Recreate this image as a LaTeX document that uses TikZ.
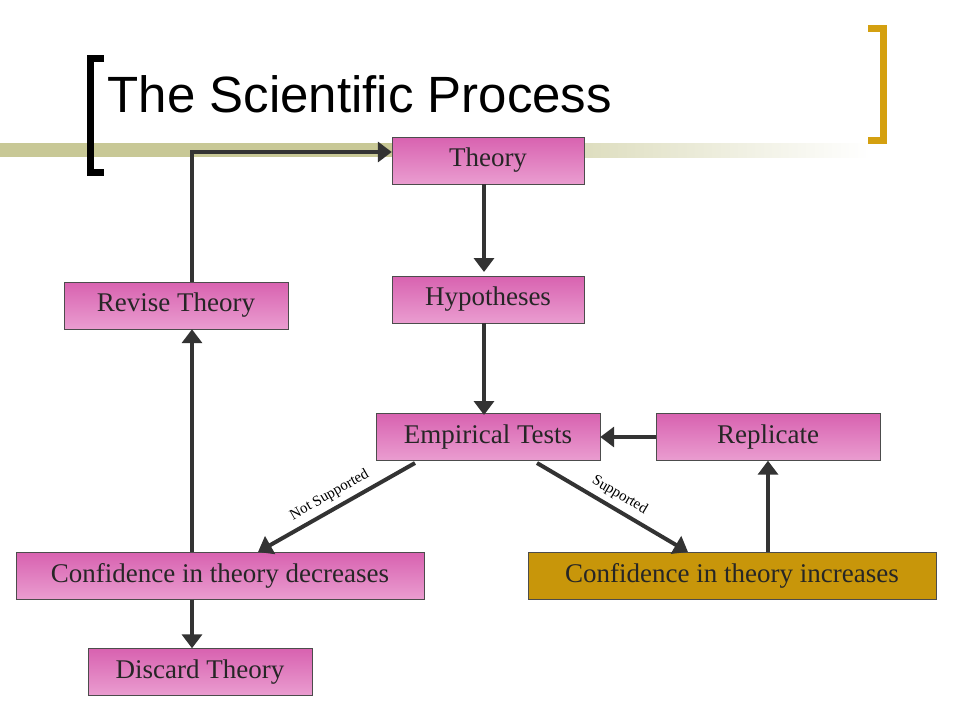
\documentclass[tikz,border=0pt]{standalone}
\usepackage{fontspec}
\setmainfont{Liberation Serif}
\newfontfamily\titlefont{Liberation Sans}
\usetikzlibrary{positioning,arrows.meta}
\definecolor{pinktop}{HTML}{D862B0}
\definecolor{pinkbot}{HTML}{EA9DD0}
\definecolor{goldbox}{HTML}{C8960A}
\definecolor{olivebar}{HTML}{C8C896}
\definecolor{goldbracket}{HTML}{D4A010}

\tikzset{
  stage/.style={draw=black!70, thin, top color=pinktop, bottom color=pinkbot, minimum height=47pt,
    inner sep=0pt, font=\fontsize{27}{30}\selectfont, text=black!85, text depth=6pt},
  flow/.style={-{Triangle[length=14pt,width=20pt]}, line width=4pt, draw=black!80},
  lbl/.style={font=\fontsize{15}{17}\selectfont, sloped, above=2pt}
}

\begin{document}
\begin{tikzpicture}[x=1pt,y=-1pt]
\useasboundingbox (0,0) rectangle (960,720);
% header decoration
\shade[left color=olivebar, right color=white] (400,143) rectangle (870,157);
\fill[olivebar] (0,143) rectangle (400,157);
\draw[line width=7pt, line cap=butt] (104,58) -- (90,58) -- (90,172) -- (104,172);
\draw[goldbracket, line width=7pt] (868,28) -- (883,28) -- (883,140) -- (868,140);
\node[anchor=west, font=\titlefont\fontsize{51}{55}\selectfont] (title) at (104,94) {The Scientific Process};

% boxes
\node[stage, minimum width=192pt] (theory) at (488,160.5) {Theory};
\node[stage, minimum width=192pt] (hyp) at (488,299.5) {Hypotheses};
\node[stage, minimum width=224pt] (revise) at (176,305.5) {Revise Theory};
\node[stage, minimum width=224pt] (tests) at (488,437) {Empirical Tests};
\node[stage, minimum width=224pt] (replicate) at (768,437) {Replicate};
\node[stage, minimum width=408pt] (lower) at (220,576) {Confidence in theory decreases};
\node[stage, minimum width=408pt, top color=goldbox, bottom color=goldbox] (higher) at (732,576) {Confidence in theory increases};
\node[stage, minimum width=224pt] (discard) at (200,672) {Discard Theory};

% connectors
\draw[flow] (theory.south -| 484,0) -- (484,272);
\draw[flow] (hyp.south -| 484,0) -- (484,415);
\draw[flow] (replicate.west) -- (tests.east);
\draw[flow] (415,463) -- node[lbl]{Not Supported} (258,552);
\draw[flow] (537,463) -- node[lbl]{Supported} (688,552);
\draw[flow] (higher.north -| 768,0) -- (replicate.south -| 768,0);
\draw[flow] (lower.north -| 192,0) -- (revise.south -| 192,0);
\draw[flow] (lower.south -| 192,0) -- (discard.north -| 192,0);
\draw[flow] (revise.north -| 192,0) |- (theory.west |- 0,152);
\end{tikzpicture}
\end{document}
